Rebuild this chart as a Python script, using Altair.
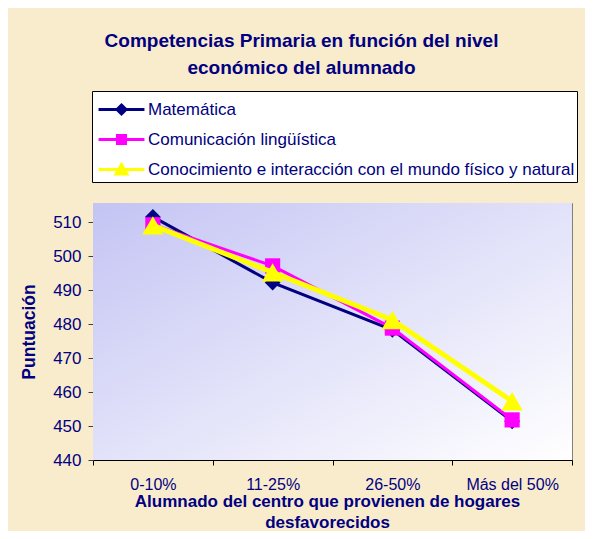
import altair as alt
import pandas as pd

# ---- data ----
categories = ["0-10%", "11-25%", "26-50%", "Más del 50%"]
series_names = [
    "Matemática",
    "Comunicación lingüística",
    "Conocimiento e interacción con el mundo físico y natural",
]
matematica = [511.5, 492.2, 478.3, 451.4]
comunicacion = [509.2, 497.1, 478.8, 451.8]
conocimiento = [509.0, 495.2, 481.2, 457.3]
y_ticks = [440, 450, 460, 470, 480, 490, 500, 510]

# ---- styling ----
NAVY = "#000080"
colors = ["#000080", "#FF00FF", "#FFFF00"]
shapes = ["diamond", "square", "triangle-up"]
line_widths = [3, 3, 5]
marker_sizes = [250, 230, 450]
legend_paths = [
    "M-1.53,0L1.53,0M0,-0.3L0.3,0L0,0.3L-0.3,0Z",
    "M-1.53,0L1.53,0M-0.27,-0.27L0.27,-0.27L0.27,0.27L-0.27,0.27Z",
    "M-1.53,0L1.53,0M0,-0.33L0.36,0.3L-0.36,0.3Z",
]
FONT = "Liberation Sans"
W, H = 479, 257

rows = []
for name, vals in zip(series_names, [matematica, comunicacion, conocimiento]):
    for cat, v in zip(categories, vals):
        rows.append({"category": cat, "value": v, "series": name})
df = pd.DataFrame(rows)

x_enc = alt.X(
    "category:N",
    sort=categories,
    bandPosition=0.5,
    scale=alt.Scale(type="band", domain=categories, paddingInner=0, paddingOuter=0),
    axis=alt.Axis(
        title=["Alumnado del centro que provienen de hogares", "desfavorecidos"],
        tickBand="extent",
        grid=False,
        labelAngle=0,
        labelColor=NAVY,
        labelFontSize=16,
        labelFont=FONT,
        labelPadding=11,
        domainColor="#000000",
        tickColor="#000000",
        tickSize=5,
        titleColor=NAVY,
        titleFont=FONT,
        titleFontSize=17,
        titleFontWeight="bold",
        titleLineHeight=21,
        titleX=234,
        titleY=33,
        titleAlign="center",
        titleBaseline="top",
    ),
)
y_enc = alt.Y(
    "value:Q",
    scale=alt.Scale(domain=[440, 515.6], nice=False, zero=False),
    axis=alt.Axis(
        title="Puntuación",
        values=y_ticks,
        grid=True,
        gridColor="#808080",
        gridWidth=1,
        labelColor=NAVY,
        labelFontSize=17,
        labelFont=FONT,
        labelPadding=7,
        domainColor="#404040",
        tickColor="#404040",
        tickSize=5,
        titleColor=NAVY,
        titleFont=FONT,
        titleFontSize=17.5,
        titleFontWeight="bold",
        titleAngle=-90,
        titleX=-63.5,
        titleY=H / 2,
        titleAlign="center",
        titleBaseline="middle",
    ),
)

gradient = alt.LinearGradient(
    gradient="linear",
    x1=0, y1=0, x2=1, y2=1,
    stops=[alt.GradientStop(color="#C4C4F4", offset=0),
           alt.GradientStop(color="#FFFFFF", offset=1)],
)
bg = alt.Chart(alt.Data(values=[{}])).mark_rect(color=gradient).encode(
    x=alt.value(0), x2=alt.value(W), y=alt.value(0), y2=alt.value(H)
)

layers = [bg]
for name, c, s, lw, ms in zip(series_names, colors, shapes, line_widths, marker_sizes):
    base = alt.Chart(df).transform_filter(alt.datum.series == name)
    layers.append(base.mark_line(color=c, strokeWidth=lw).encode(x=x_enc, y=y_enc))
    layers.append(
        base.mark_point(filled=True, shape=s, size=ms, color=c, opacity=1).encode(x=x_enc, y=y_enc)
    )

legend_cfg = alt.Legend(
    title=None,
    orient="none",
    legendX=-1,
    legendY=-112,
    fillColor="#FFFFFF",
    strokeColor="#000000",
    padding=2,
    rowPadding=3,
    symbolSize=900,
    symbolOpacity=1,
    symbolOffset=11,
    labelOffset=10,
    labelColor=NAVY,
    labelFont=FONT,
    labelFontSize=17,
    labelLimit=700,
)
legend_layer = (
    alt.Chart(df)
    .transform_filter("datum.value > 100000")
    .mark_point(filled=True, opacity=1)
    .encode(
        x=x_enc,
        y=y_enc,
        fill=alt.Fill("series:N", scale=alt.Scale(domain=series_names, range=colors), legend=legend_cfg),
        stroke=alt.Stroke("series:N", scale=alt.Scale(domain=series_names, range=colors), legend=legend_cfg),
        shape=alt.Shape("series:N", scale=alt.Scale(domain=series_names, range=legend_paths), legend=legend_cfg),
        strokeWidth=alt.StrokeWidth("series:N", scale=alt.Scale(domain=series_names, range=line_widths), legend=legend_cfg),
    )
)
layers.append(legend_layer)

chart = (
    alt.layer(*layers)
    .properties(
        width=W,
        height=H,
        autosize=alt.AutoSizeParams(type="none"),
        padding={"left": 85, "top": 195, "right": 13, "bottom": 71},
        background="#F9ECCD",
        title=alt.Title(
            ["Competencias Primaria en función del nivel", "económico del alumnado"],
            font=FONT,
            fontSize=19,
            fontWeight="bold",
            color=NAVY,
            anchor="middle",
            frame="group",
            dx=-31,
            offset=13,
            lineHeight=27,
        ),
    )
    .configure_view(stroke="#808080", strokeWidth=1)
)

chart.save("out.html", embed_options={"renderer": "svg", "actions": False})
